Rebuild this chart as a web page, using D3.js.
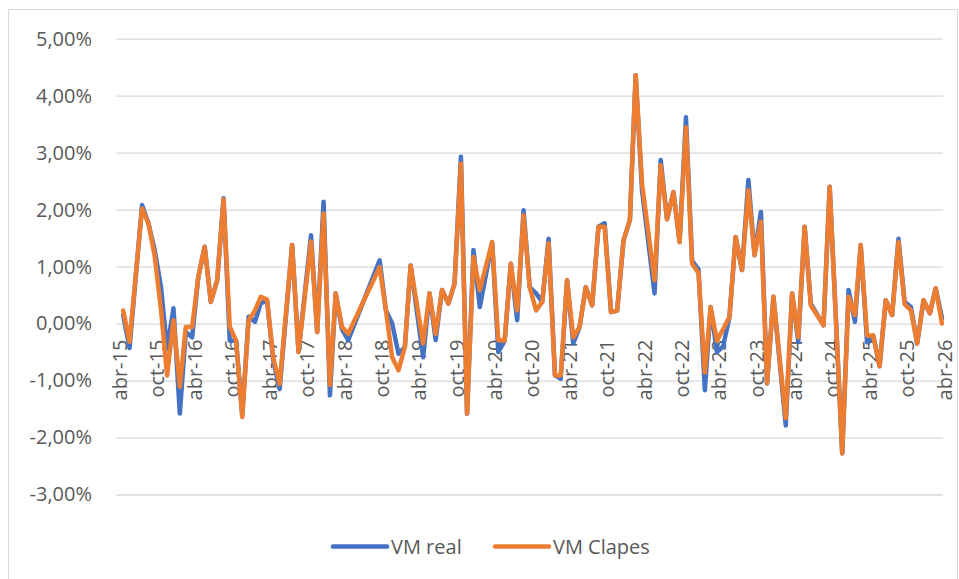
<!DOCTYPE html>
<html>
<head>
<meta charset="utf-8">
<script src="https://cdn.jsdelivr.net/npm/d3@7/dist/d3.min.js"></script>
<style>
  html, body { margin: 0; padding: 0; background: #fff; }
  svg { display: block; font-family: "Open Sans", "Noto Sans", sans-serif; }
</style>
</head>
<body>
<svg id="chart" width="959" height="579"></svg>
<script>
// ---- Data (monthly variation, %) ----
const months = [
  "2015-05","2015-06","2015-08","2015-09","2015-10","2015-11","2015-12",
  "2016-01","2016-02","2016-03","2016-04","2016-05","2016-06","2016-07","2016-08","2016-09","2016-10","2016-11","2016-12",
  "2017-01","2017-02","2017-03","2017-04","2017-05","2017-06","2017-08","2017-09","2017-11","2017-12",
  "2018-01","2018-02","2018-03","2018-04","2018-05","2018-10","2018-11","2018-12",
  "2019-01","2019-02","2019-03","2019-05","2019-06","2019-07","2019-08","2019-09","2019-10","2019-11","2019-12",
  "2020-01","2020-02","2020-04","2020-05","2020-06","2020-07","2020-08","2020-09","2020-10","2020-11","2020-12",
  "2021-01","2021-02","2021-03","2021-04","2021-05","2021-06","2021-07","2021-08","2021-09","2021-10","2021-11","2021-12",
  "2022-01","2022-02","2022-03","2022-04","2022-06","2022-07","2022-08","2022-09","2022-10","2022-11","2022-12",
  "2023-01","2023-02","2023-03","2023-04","2023-05","2023-06","2023-07","2023-08","2023-09","2023-10","2023-11","2023-12",
  "2024-01","2024-03","2024-04","2024-05","2024-06","2024-07","2024-09","2024-10","2024-12",
  "2025-01","2025-02","2025-03","2025-04","2025-05","2025-06","2025-07","2025-08","2025-09","2025-10","2025-11","2025-12",
  "2026-01","2026-02","2026-03","2026-04"
];
const vmReal = [
  0.15,-0.43,2.08,1.76,1.30,0.65,-0.45,
  0.27,-1.58,-0.15,-0.24,0.82,1.35,0.38,0.76,2.20,-0.30,-0.30,-1.60,
  0.12,0.03,0.36,0.40,-0.65,-1.15,1.38,-0.50,1.55,-0.15,
  2.14,-1.26,0.53,-0.10,-0.29,1.11,0.23,0.00,
  -0.53,-0.41,1.02,-0.59,0.53,-0.29,0.59,0.35,0.70,2.93,-1.58,
  1.29,0.29,1.43,-0.50,-0.30,1.05,0.06,1.99,0.64,0.53,0.38,
  1.49,-0.91,-0.97,0.76,-0.35,-0.06,0.64,0.32,1.70,1.76,0.20,0.23,
  1.46,1.82,4.36,2.34,0.53,2.87,1.83,2.31,1.43,3.62,1.10,
  0.95,-1.17,0.29,-0.50,-0.40,0.12,1.52,0.94,2.52,1.20,1.96,-1.05,
  0.47,-1.79,0.53,-0.32,1.70,0.35,-0.03,2.40,-2.28,
  0.59,0.03,1.38,-0.33,-0.21,-0.75,0.41,0.15,1.49,0.38,0.29,-0.35,
  0.41,0.18,0.62,0.10
];
const vmClapes = [
  0.23,-0.32,2.02,1.76,1.20,0.25,-0.91,
  0.06,-1.11,-0.06,-0.06,0.82,1.35,0.38,0.76,2.18,-0.05,-0.30,-1.64,
  0.06,0.23,0.47,0.42,-0.60,-1.06,1.38,-0.50,1.44,-0.15,
  1.93,-1.08,0.53,-0.06,-0.18,0.99,0.23,-0.59,
  -0.82,-0.41,1.02,-0.35,0.53,-0.18,0.59,0.35,0.70,2.81,-1.58,
  1.17,0.59,1.43,-0.29,-0.30,1.05,0.23,1.90,0.64,0.23,0.38,
  1.41,-0.91,-0.91,0.76,-0.24,-0.06,0.64,0.32,1.70,1.70,0.20,0.23,
  1.46,1.82,4.36,2.46,0.76,2.78,1.83,2.31,1.43,3.44,1.05,
  0.89,-0.86,0.29,-0.30,-0.10,0.12,1.52,0.94,2.34,1.20,1.79,-1.05,
  0.47,-1.66,0.53,-0.24,1.70,0.32,-0.03,2.40,-2.28,
  0.47,0.15,1.38,-0.21,-0.21,-0.75,0.41,0.15,1.43,0.34,0.23,-0.35,
  0.41,0.18,0.62,0.00
];
const seriesNames = ["VM real", "VM Clapes"];
const seriesColors = ["#4472C4", "#ED7D31"];
const yTicks = [-3, -2, -1, 0, 1, 2, 3, 4, 5];
const xTickMonths = ["2015-04","2015-10","2016-04","2016-10","2017-04","2017-10","2018-04","2018-10",
  "2019-04","2019-10","2020-04","2020-10","2021-04","2021-10","2022-04","2022-10",
  "2023-04","2023-10","2024-04","2024-10","2025-04","2025-10","2026-04"];
const xTickLabels = ["abr-15","oct-15","abr-16","oct-16","abr-17","oct-17","abr-18","oct-18",
  "abr-19","oct-19","abr-20","oct-20","abr-21","oct-21","abr-22","oct-22",
  "abr-23","oct-23","abr-24","oct-24","abr-25","oct-25","abr-26"];

// ---- Layout ----
const svg = d3.select("#chart");
const parse = d3.timeParse("%Y-%m");
const plotLeft = 116, plotRight = 943;

svg.append("rect")
  .attr("x", 8.5).attr("y", 9.5).attr("width", 949).attr("height", 570)
  .attr("fill", "#fff").attr("stroke", "#d9d9d9").attr("stroke-width", 1);

const x = d3.scaleTime()
  .domain([parse("2015-04"), parse("2026-04")])
  .range([117, 942]);
const y = d3.scaleLinear().domain([-3, 5]).range([494.5, 38.7]);

const fmt = v => v.toFixed(2).replace(".", ",") + "%";

// Y axis with gridlines
const yAxis = d3.axisLeft(y).tickValues(yTicks).tickFormat(fmt)
  .tickSize(-(plotRight - plotLeft)).tickPadding(24);
const gy = svg.append("g").attr("transform", `translate(${plotLeft},0)`).call(yAxis);
gy.select(".domain").remove();
gy.selectAll(".tick line").attr("stroke", "#d9d9d9").attr("stroke-width", 1.3);
gy.selectAll(".tick text").attr("fill", "#595959").style("font-size", "20px")
  .attr("font-family", "Open Sans");

// X axis labels at y=0
const xAxis = d3.axisBottom(x)
  .tickValues(xTickMonths.map(parse))
  .tickFormat((d, i) => xTickLabels[i])
  .tickSize(0);
const gx = svg.append("g").attr("transform", `translate(0,${y(0)})`).call(xAxis);
gx.select(".domain").remove();
gx.selectAll(".tick text")
  .attr("fill", "#595959").style("font-size", "20px").attr("font-family", "Open Sans")
  .attr("text-anchor", "end")
  .attr("transform", "translate(2,16) rotate(-90)")
  .attr("x", 0).attr("y", 0).attr("dy", "0.35em");

// Lines
const data = months.map((m, i) => ({ date: parse(m), real: vmReal[i], clapes: vmClapes[i] }));
const keys = ["real", "clapes"];
keys.forEach((k, i) => {
  const line = d3.line().x(d => x(d.date)).y(d => y(d[k]));
  svg.append("path").datum(data)
    .attr("d", line)
    .attr("fill", "none")
    .attr("stroke", seriesColors[i])
    .attr("stroke-width", 4.5)
    .attr("stroke-linejoin", "round")
    .attr("stroke-linecap", "round");
});

// Legend
const legendY = 546.5;
const legendItems = [{x: 333, tx: 391}, {x: 495, tx: 553}];
legendItems.forEach((it, i) => {
  svg.append("line")
    .attr("x1", it.x).attr("x2", it.x + 54)
    .attr("y1", legendY).attr("y2", legendY)
    .attr("stroke", seriesColors[i]).attr("stroke-width", 4.5).attr("stroke-linecap", "round");
  svg.append("text")
    .attr("x", it.tx).attr("y", legendY).attr("dy", "0.35em")
    .attr("fill", "#595959").style("font-size", "20px").attr("font-family", "Open Sans")
    .text(seriesNames[i]);
});
</script>
</body>
</html>
